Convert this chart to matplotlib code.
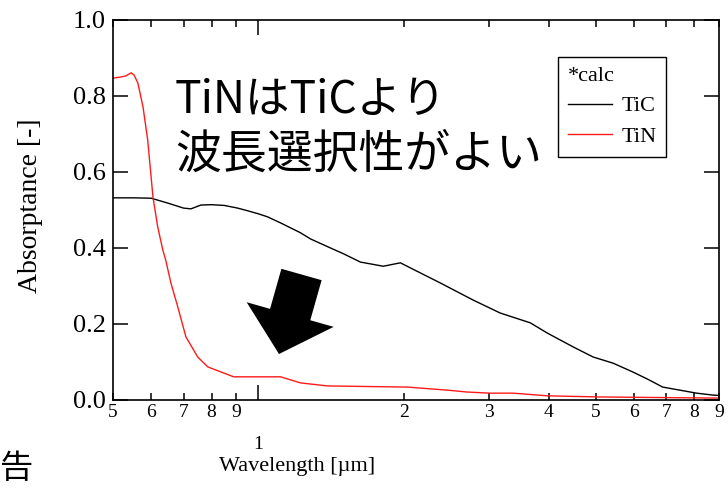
import matplotlib
matplotlib.use("Agg")
import matplotlib.pyplot as plt
from matplotlib.ticker import FixedLocator, FuncFormatter
from matplotlib.patches import FancyArrow

plt.rcParams['font.family'] = ['Liberation Serif', 'DejaVu Serif']

# calculated absorptance, TiC
tic_wl = [0.50, 0.55, 0.60, 0.65, 0.70, 0.725, 0.76, 0.80, 0.85, 0.906, 0.95,
          1.0, 1.045, 1.112, 1.223, 1.282, 1.411, 1.5, 1.627, 1.815, 1.969,
          2.1, 2.382, 2.786, 3.168, 3.66, 3.97, 4.5, 4.94, 5.43, 5.96, 6.4,
          6.88, 7.46, 8.09, 8.73, 9.0]
tic_abs = [0.532, 0.532, 0.531, 0.518, 0.505, 0.503, 0.513, 0.514, 0.512,
           0.505, 0.498, 0.49, 0.482, 0.466, 0.44, 0.424, 0.40, 0.385, 0.363,
           0.352, 0.361, 0.343, 0.308, 0.263, 0.229, 0.203, 0.176, 0.139,
           0.113, 0.097, 0.074, 0.055, 0.034, 0.026, 0.018, 0.013, 0.012]

# calculated absorptance, TiN
tin_wl = [0.50, 0.519, 0.532, 0.545, 0.553, 0.563, 0.577, 0.590, 0.605, 0.619,
          0.634, 0.643, 0.659, 0.681, 0.708, 0.749, 0.786, 0.836, 0.889, 1.011,
          1.112, 1.166, 1.223, 1.391, 2.036, 2.461, 2.704, 3.020, 3.37, 3.97,
          5.10, 9.0]
tin_abs = [0.847, 0.85, 0.853, 0.861, 0.855, 0.834, 0.771, 0.684, 0.534, 0.455,
           0.395, 0.368, 0.308, 0.245, 0.166, 0.113, 0.087, 0.074, 0.061, 0.061,
           0.061, 0.053, 0.045, 0.037, 0.034, 0.026, 0.021, 0.018, 0.018, 0.011,
           0.008, 0.005]

minor_ticks = [0.5, 0.6, 0.7, 0.8, 0.9, 2, 3, 4, 5, 6, 7, 8, 9]
y_ticks = [0.0, 0.2, 0.4, 0.6, 0.8, 1.0]

fig = plt.figure(figsize=(7.28, 4.88), dpi=100)
ax = fig.add_axes([113/728, 88/488, 606/728, 380/488])

ax.plot(tic_wl, tic_abs, color='black', lw=1.0, label='TiC')
ax.plot(tin_wl, tin_abs, color='#ff1a1a', lw=1.0, label='TiN')

ax.set_xscale('log')
ax.set_xlim(0.5, 9.0)
ax.set_ylim(0, 1.0)

# only the leading digit is written on the log axis
def digit(v, pos):
    return str(int(round(v / 10 ** (len(str(int(v))) - 1) if v >= 1 else v * 10)))

ax.xaxis.set_major_locator(FixedLocator([1]))
ax.xaxis.set_major_formatter(FuncFormatter(lambda v, pos: '1'))
ax.xaxis.set_minor_locator(FixedLocator(minor_ticks))
ax.xaxis.set_minor_formatter(FuncFormatter(digit))
ax.set_yticks(y_ticks)
ax.yaxis.set_major_formatter(FuncFormatter(lambda v, pos: f'{v:.1f}'))

ax.tick_params(which='both', direction='in', top=True, right=True, width=1.1)
ax.tick_params(axis='x', which='major', length=11, pad=26, labelsize=14)
ax.tick_params(axis='x', which='minor', length=5, pad=3, labelsize=14)
ax.tick_params(axis='y', which='major', length=11, pad=5, labelsize=19)
for s in ax.spines.values():
    s.set_linewidth(1.2)

ax.set_xlabel('Wavelength [\u00b5m]', fontsize=16)
ax.xaxis.set_label_coords(0.303, -0.15)
ax.set_ylabel('Absorptance [-]', fontsize=20)
ax.yaxis.set_label_coords(-0.115, 0.51)

leg = ax.legend(title='*calc', loc='upper left', bbox_to_anchor=(0.734, 0.903),
                fontsize=16, title_fontsize=16, alignment='left',
                fancybox=False, edgecolor='black', framealpha=1,
                handlelength=2.0, handletextpad=0.4, labelspacing=0.45,
                borderpad=0.45, borderaxespad=0)
leg.get_frame().set_linewidth(1.0)

jp = ['Noto Sans CJK JP', 'DejaVu Sans']
ax.text(0.102, 0.755, 'TiNはTiCより', transform=ax.transAxes, fontsize=32,
        family=jp, va='baseline')
ax.text(0.102, 0.61, '波長選択性がよい', transform=ax.transAxes, fontsize=33,
        family=jp, va='baseline')

arrow = FancyArrow(3.015, 2.135, -0.225, -0.795, width=0.418, head_width=0.904,
                   head_length=0.41, length_includes_head=True,
                   transform=fig.dpi_scale_trans, color='black', lw=0)
fig.add_artist(arrow)

fig.text(0.0, 0.04, '告', fontsize=24, family=jp, ha='left', va='center')

fig.savefig('out.png', dpi=100)
